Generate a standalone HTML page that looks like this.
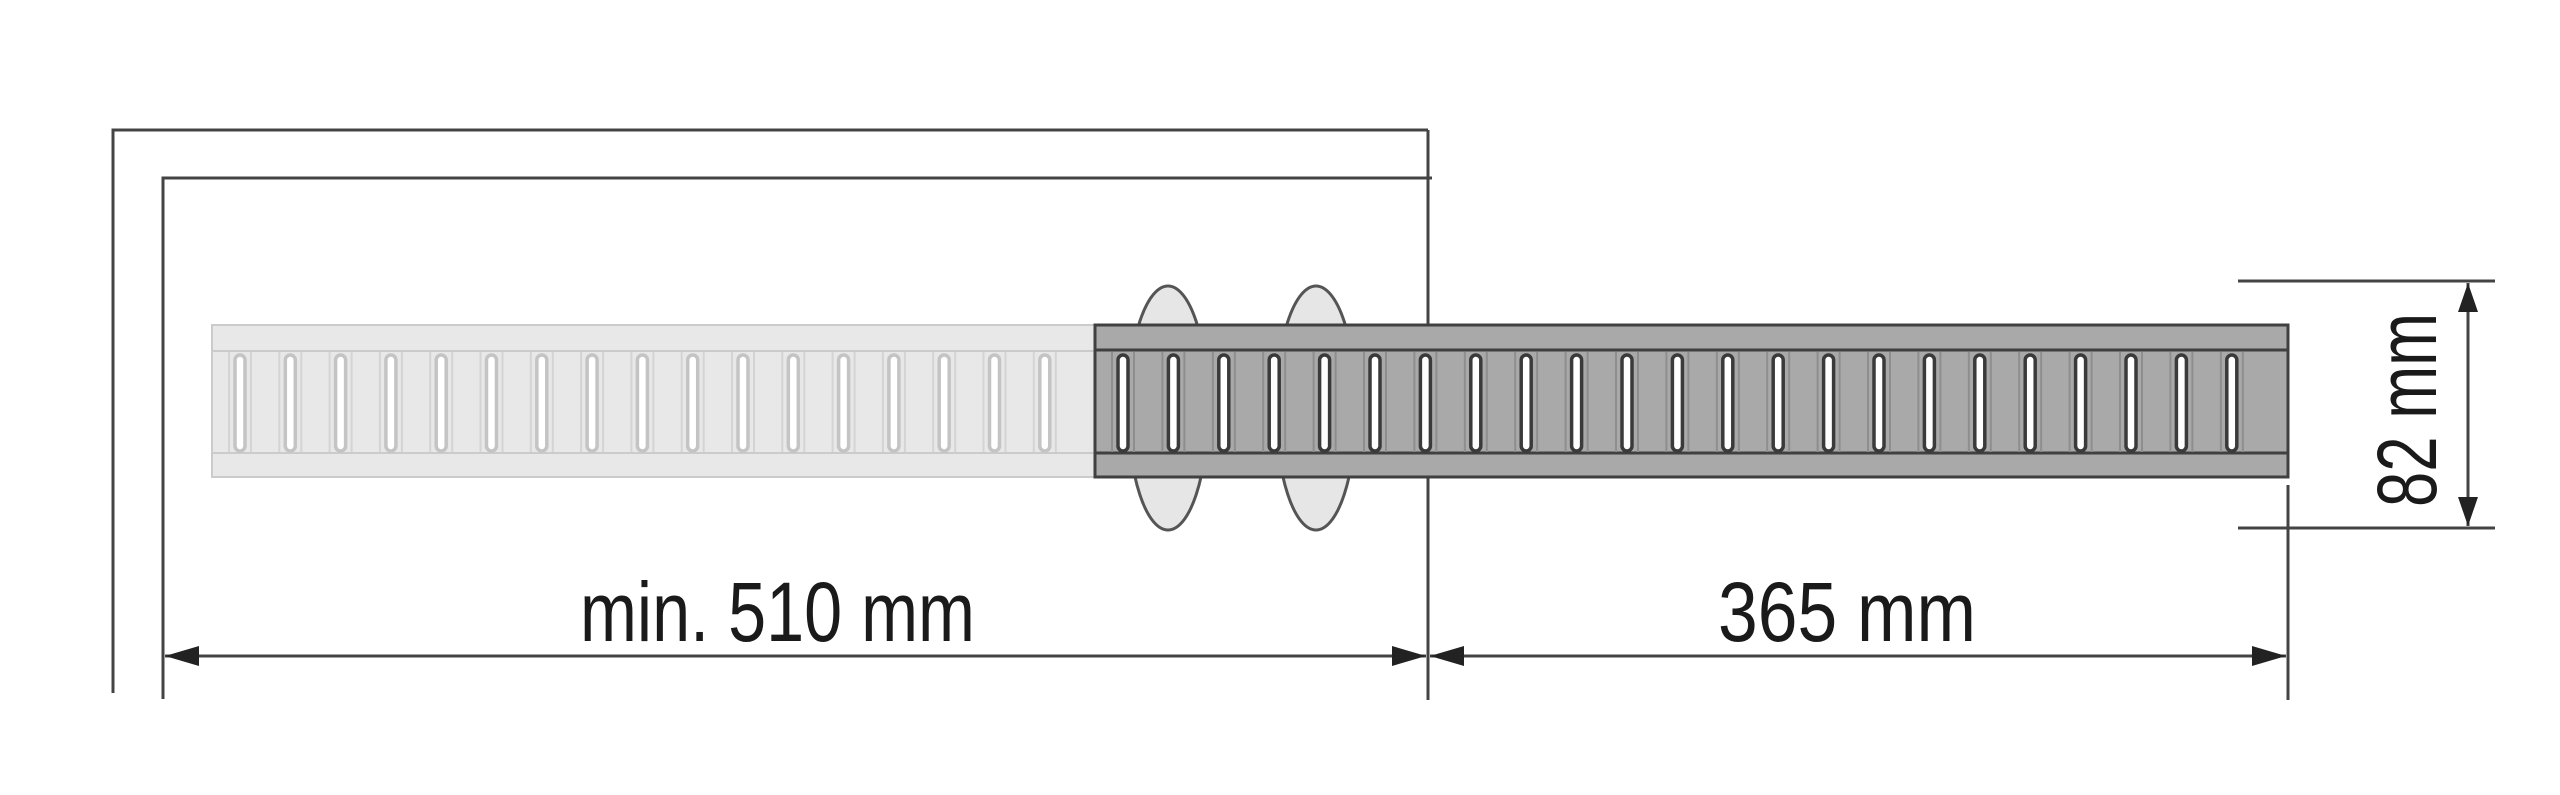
<!DOCTYPE html>
<html><head><meta charset="utf-8"><style>html,body{margin:0;padding:0;background:#fff}svg{display:block}</style></head>
<body>
<svg width="2560" height="795" viewBox="0 0 2560 795" xmlns="http://www.w3.org/2000/svg">
<g fill="none" stroke="#444" stroke-width="3">
  <polyline points="113,693 113,130 1428,130"/>
  <polyline points="163,699 163,178 1432,178"/>
  <line x1="1428" y1="130" x2="1428" y2="700"/>
</g>
<g fill="#e6e6e6" stroke="#555" stroke-width="3">
  <ellipse cx="1168" cy="408" rx="40" ry="122"/>
  <ellipse cx="1316" cy="408" rx="40" ry="122"/>
</g>
<rect x="212" y="325" width="884" height="152" fill="#e8e8e8" stroke="#cbcbcb" stroke-width="2"/>
<line x1="212" y1="351" x2="1096" y2="351" stroke="#cbcbcb" stroke-width="2"/>
<line x1="212" y1="453" x2="1096" y2="453" stroke="#cbcbcb" stroke-width="2"/>
<g id="ls"></g>
<rect x="1095" y="325" width="1193" height="152" fill="#a9a9a9" stroke="#404040" stroke-width="3"/>
<line x1="1095" y1="350" x2="2288" y2="350" stroke="#404040" stroke-width="3"/>
<line x1="1095" y1="453" x2="2288" y2="453" stroke="#404040" stroke-width="3"/>
<g id="ds"></g>
<g stroke="#444" stroke-width="3" fill="none">
  <line x1="2288" y1="485" x2="2288" y2="700"/>
  <line x1="165" y1="656" x2="1426" y2="656"/>
  <line x1="1430" y1="656" x2="2286" y2="656"/>
  <line x1="2238" y1="281" x2="2495" y2="281"/>
  <line x1="2238" y1="528" x2="2495" y2="528"/>
  <line x1="2468" y1="283" x2="2468" y2="526"/>
</g>
<g fill="#222">
  <polygon points="165,656 199,646 199,666"/>
  <polygon points="1426,656 1392,646 1392,666"/>
  <polygon points="1430,656 1464,646 1464,666"/>
  <polygon points="2286,656 2252,646 2252,666"/>
  <polygon points="2468,283 2458,312 2478,312"/>
  <polygon points="2468,526 2458,497 2478,497"/>
</g>
<g font-family="Liberation Sans, sans-serif" font-size="84" fill="#1a1a1a">
  <text x="580" y="641" textLength="395" lengthAdjust="spacingAndGlyphs">min. 510 mm</text>
  <text x="1718" y="641" textLength="258" lengthAdjust="spacingAndGlyphs">365 mm</text>
  <text transform="translate(2436,507) rotate(-90)" x="0" y="0" textLength="194" lengthAdjust="spacingAndGlyphs">82 mm</text>
</g>
<script>
var ns="http://www.w3.org/2000/svg";
function slot(g,x,fill,stroke,div){
  if(div){var l1=document.createElementNS(ns,"line");l1.setAttribute("x1",x-11);l1.setAttribute("x2",x-11);l1.setAttribute("y1",352);l1.setAttribute("y2",452);l1.setAttribute("stroke",div);l1.setAttribute("stroke-width","2");g.appendChild(l1);
  var l2=l1.cloneNode();l2.setAttribute("x1",x+11);l2.setAttribute("x2",x+11);g.appendChild(l2);}
  var r=document.createElementNS(ns,"rect");
  r.setAttribute("x",x-5);r.setAttribute("y",355);r.setAttribute("width",10);r.setAttribute("height",96);
  r.setAttribute("rx",5);r.setAttribute("fill",fill);r.setAttribute("stroke",stroke);r.setAttribute("stroke-width","3.5");g.appendChild(r);
}
var ls=document.getElementById("ls");
for(var i=0;i<17;i++)slot(ls,240+i*50.3,"#fff","#c4c4c4","#d4d4d4");
var ds=document.getElementById("ds");
for(var i=0;i<23;i++)slot(ds,1123+i*50.4,"#fff","#3a3a3a","#8e8e8e");
</script>
</svg>
</body></html>
